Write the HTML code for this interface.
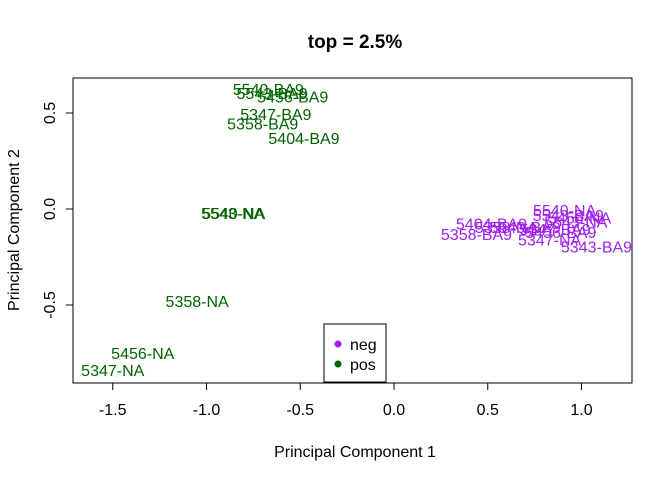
<!DOCTYPE html>
<html><head><meta charset="utf-8"><style>body{margin:0;background:#fff}svg{font-family:"Liberation Sans",Arial,sans-serif}</style></head>
<body>
<svg width="672" height="480" id="chart">
<text x="355" y="48" text-anchor="middle" font-size="19" font-weight="bold">top = 2.5%</text>
<rect x="73" y="78" width="559" height="305" fill="none" stroke="#000"/>
<g id="xaxis"></g>
<g id="yaxis"></g>
<g id="pts"></g>
<text x="355" y="457" text-anchor="middle" font-size="16">Principal Component 1</text>
<text transform="translate(19,230) rotate(-90)" text-anchor="middle" font-size="16">Principal Component 2</text>
<g>
<rect x="324" y="324" width="62" height="58" fill="#fff" stroke="#000"/>
<circle cx="338" cy="344" r="3.5" fill="#a020f0"/>
<text x="350" y="350" font-size="16">neg</text>
<circle cx="338" cy="364" r="3.5" fill="#006400"/>
<text x="350" y="370" font-size="16">pos</text>
</g>
</svg>
<script>
const labels=["5540-BA9","5543-BA9","5456-BA9","5347-BA9","5358-BA9","5404-BA9","5543-NA","5540-NA","5358-NA","5456-NA","5347-NA",
"5540-NA","5543-BA9","5456-NA","5543-NA","5404-BA9","5358-BA9","5347-NA","5540-BA9","5456-BA9","5347-BA9","5343-BA9","5358-NA"];
const groups=["pos","pos","pos","pos","pos","pos","pos","pos","pos","pos","pos",
"neg","neg","neg","neg","neg","neg","neg","neg","neg","neg","neg","neg"];
const pc1=[-0.67,-0.65,-0.54,-0.63,-0.70,-0.48,-0.86,-0.855,-1.05,-1.34,-1.50,
0.91,0.93,0.99,0.97,0.52,0.44,0.83,0.70,0.89,0.86,1.08,0.60];
const pc2=[0.62,0.60,0.58,0.49,0.44,0.365,-0.026,-0.026,-0.485,-0.755,-0.845,
-0.01,-0.036,-0.05,-0.07,-0.08,-0.135,-0.165,-0.10,-0.125,-0.11,-0.20,-0.10];
const xTicks=[-1.5,-1.0,-0.5,0.0,0.5,1.0];
const yTicks=[-0.5,0.0,0.5];
const colors={neg:"#a020f0",pos:"#006400"};
const X=v=>394+v*187.5, Y=v=>209-v*192;
const NS="http://www.w3.org/2000/svg";
const mk=(t,a,p)=>{const e=document.createElementNS(NS,t);for(const k in a)e.setAttribute(k,a[k]);p.appendChild(e);return e;};
const xa=document.getElementById('xaxis'),ya=document.getElementById('yaxis'),pg=document.getElementById('pts');
mk('line',{x1:X(-1.5),x2:X(1.0),y1:383,y2:383,stroke:'#000'},xa);
xTicks.forEach(v=>{mk('line',{x1:X(v),x2:X(v),y1:383,y2:390,stroke:'#000'},xa);
const t=mk('text',{x:X(v),y:415,'text-anchor':'middle','font-size':16},xa);t.textContent=v.toFixed(1);

});
mk('line',{x1:73,x2:73,y1:Y(-0.5),y2:Y(0.5),stroke:'#000'},ya);
yTicks.forEach(v=>{mk('line',{x1:66,x2:73,y1:Y(v),y2:Y(v),stroke:'#000'},ya);
const t=mk('text',{transform:`translate(55,${Y(v)}) rotate(-90)`,'text-anchor':'middle','font-size':16},ya);t.textContent=v.toFixed(1);

});
labels.forEach((l,i)=>{const t=mk('text',{x:X(pc1[i]),y:Y(pc2[i])+5,'text-anchor':'middle','font-size':16,fill:colors[groups[i]]},pg);t.textContent=l;

});
</script>
</body></html>
